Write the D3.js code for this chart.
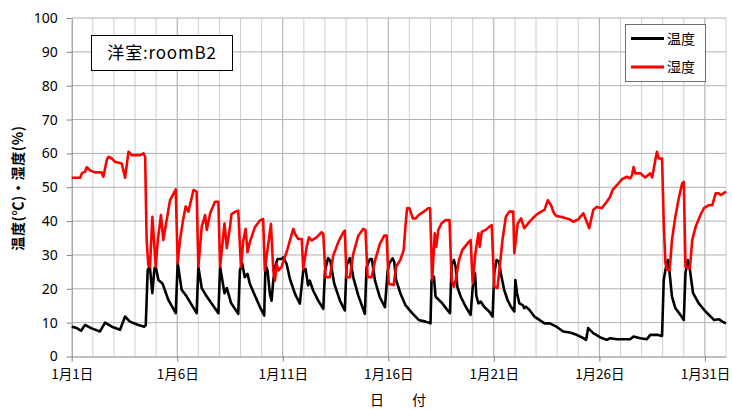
<!DOCTYPE html>
<html>
<head>
<meta charset="utf-8">
<script src="https://cdn.jsdelivr.net/npm/d3@7"></script>
<style>
  html, body { margin: 0; padding: 0; background: #fff; }
  svg { display: block; font-family: "Noto Sans CJK JP", "Noto Sans", sans-serif; }
</style>
</head>
<body>
<svg id="chart" width="732" height="410"></svg>
<script>
// ---- data (day offset from 1月1日 00:00, value) ----
const xTickDays = [0, 5, 10, 15, 20, 25, 30];
const xTickLabels = ["1月1日", "1月6日", "1月11日", "1月16日", "1月21日", "1月26日", "1月31日"];
const yTicks = [0, 10, 20, 30, 40, 50, 60, 70, 80, 90, 100];
const seriesNames = ["温度", "湿度"];
const seriesColors = ["#000000", "#ff0000"];

const temperature = [
  [0,8.8],[0.24,8.4],[0.44,7.6],[0.63,9.3],[0.95,8.3],[1.34,7.4],[1.58,10.0],[1.9,8.8],[2.29,7.9],
  [2.53,11.8],[2.76,10.3],[3.16,9.3],[3.44,8.8],[3.51,9.3],[3.6,25.6],[3.7,26.7],[3.82,18.7],
  [3.92,26.0],[3.98,26.5],[4.11,22.6],[4.3,21.6],[4.58,16.7],[4.93,12.8],[5.02,27.7],[5.21,19.7],
  [5.45,17.7],[5.92,12.8],[6.0,26.5],[6.16,20.2],[6.35,18.2],[6.95,12.8],[7.03,26.5],[7.24,18.7],
  [7.35,20.2],[7.55,15.8],[7.89,12.6],[7.97,25.4],[8.08,27.5],[8.2,23.4],[8.33,24.4],[8.44,21.5],
  [8.68,18.0],[8.92,14.6],[9.12,12.1],[9.18,27.0],[9.28,25.4],[9.39,18.5],[9.47,16.5],[9.55,22.4],
  [9.63,26.4],[9.75,28.8],[9.94,28.8],[10.02,29.3],[10.18,27.4],[10.34,22.9],[10.58,18.5],
  [10.81,15.6],[10.97,25.4],[11.08,25.9],[11.2,21.0],[11.28,22.4],[11.44,19.5],[11.68,16.5],
  [11.92,14.1],[12.0,25.4],[12.15,29.1],[12.25,28.3],[12.44,21.5],[12.71,16.5],[12.94,13.6],
  [13.02,26.9],[13.18,29.1],[13.34,23.4],[13.58,18.0],[13.89,12.6],[13.97,26.4],[14.13,28.8],
  [14.22,28.8],[14.37,22.4],[14.6,17.5],[14.84,14.6],[14.97,25.4],[15.05,27.5],[15.2,29.0],
  [15.28,28.0],[15.37,22.6],[15.57,18.7],[15.81,15.2],[16.13,12.8],[16.44,10.8],[16.76,10.3],
  [17.0,9.8],[17.05,22.6],[17.16,23.6],[17.24,17.7],[17.4,16.7],[17.56,15.7],[17.79,13.8],
  [17.92,12.8],[18.0,27.0],[18.11,28.5],[18.19,26.5],[18.27,20.6],[18.43,17.7],[18.67,14.7],
  [18.9,12.3],[19.0,20.6],[19.11,24.6],[19.17,18.0],[19.27,15.7],[19.38,16.2],[19.54,14.7],
  [19.78,13.3],[19.94,11.8],[20.02,24.6],[20.13,28.5],[20.25,28.0],[20.33,24.6],[20.49,19.7],
  [20.65,16.7],[20.81,14.7],[20.97,13.3],[21.02,22.6],[21.1,18.7],[21.21,15.7],[21.37,15.2],
  [21.44,14.3],[21.52,14.7],[21.68,13.8],[21.92,11.8],[22.16,10.8],[22.4,9.8],[22.65,9.8],
  [22.97,8.8],[23.29,7.4],[23.6,7.1],[23.92,6.4],[24.16,5.7],[24.37,4.9],[24.47,8.4],[24.71,6.9],
  [25.03,5.7],[25.35,4.9],[25.51,5.4],[25.83,5.1],[26.46,5.1],[26.62,5.9],[26.94,5.4],[27.25,5.1],
  [27.41,6.4],[27.73,6.4],[27.97,6.1],[28.05,22.6],[28.13,25.6],[28.24,28.5],[28.33,24.6],
  [28.44,17.7],[28.6,14.3],[28.84,12.3],[29.0,10.8],[29.08,24.6],[29.19,28.5],[29.29,25.6],
  [29.44,18.7],[29.71,15.7],[30.03,13.3],[30.43,10.8],[30.67,11.0],[30.83,10.3],[31.0,9.8]
];

const humidity = [
  [0,52.8],[0.4,52.8],[0.48,54.1],[0.63,54.6],[0.71,55.9],[0.87,55.0],[1.1,54.4],[1.42,54.4],
  [1.5,53.1],[1.66,58.0],[1.74,59.0],[1.9,58.5],[2.05,57.5],[2.37,57.0],[2.53,52.8],[2.69,60.5],
  [2.84,59.5],[3.24,59.5],[3.4,60.0],[3.48,59.0],[3.55,34.4],[3.63,27.0],[3.71,26.5],[3.82,41.3],
  [3.92,32.4],[3.98,26.5],[4.08,34.4],[4.23,41.8],[4.34,34.4],[4.58,43.3],[4.66,46.2],[4.93,49.4],
  [5.02,27.5],[5.13,34.4],[5.29,40.8],[5.4,44.3],[5.53,42.8],[5.77,49.2],[5.92,48.7],[6.0,26.5],
  [6.16,38.3],[6.32,41.8],[6.4,37.4],[6.56,42.3],[6.79,45.7],[6.95,45.7],[7.03,26.5],[7.24,39.3],
  [7.35,32.0],[7.5,38.3],[7.57,42.1],[7.7,42.6],[7.89,43.1],[8.02,26.4],[8.13,34.3],[8.24,37.7],
  [8.33,30.8],[8.44,33.8],[8.68,38.2],[8.92,40.2],[9.07,40.6],[9.15,25.4],[9.25,30.3],[9.44,39.2],
  [9.55,25.4],[9.63,22.4],[9.71,27.4],[9.79,25.4],[9.94,26.4],[10.02,28.0],[10.18,30.8],
  [10.34,34.3],[10.5,37.7],[10.58,36.2],[10.74,34.7],[10.9,34.7],[10.97,25.9],[11.13,32.3],
  [11.24,35.2],[11.37,34.3],[11.6,35.2],[11.84,36.7],[11.92,36.2],[12.03,23.4],[12.23,23.4],
  [12.39,29.8],[12.63,33.8],[12.87,36.7],[12.94,37.2],[13.02,23.4],[13.18,23.4],[13.34,30.3],
  [13.58,35.7],[13.81,37.7],[13.92,37.4],[14.02,23.4],[14.21,23.4],[14.37,28.3],[14.6,33.3],
  [14.81,35.7],[14.92,35.7],[15.02,21.5],[15.25,21.1],[15.37,26.5],[15.57,28.5],[15.73,31.5],
  [15.81,38.3],[15.89,43.8],[16.0,43.8],[16.16,40.8],[16.3,40.8],[16.44,41.8],[16.68,42.8],
  [16.89,43.8],[16.98,43.8],[17.08,22.6],[17.2,36.4],[17.27,32.4],[17.37,37.4],[17.52,39.3],
  [17.71,40.3],[17.9,40.3],[18.0,22.6],[18.11,20.6],[18.19,22.6],[18.35,28.5],[18.51,31.5],
  [18.75,33.4],[18.9,34.4],[19.0,21.6],[19.11,29.5],[19.17,32.4],[19.27,36.4],[19.33,32.4],
  [19.43,36.9],[19.62,37.4],[19.78,38.3],[19.9,38.8],[20.02,20.6],[20.17,20.2],[20.25,24.6],
  [20.41,34.4],[20.57,41.3],[20.73,42.8],[20.92,42.8],[20.97,30.5],[21.13,39.3],[21.29,40.8],
  [21.44,37.9],[21.56,38.8],[21.76,40.3],[22.0,41.8],[22.24,42.8],[22.4,43.3],[22.56,46.2],
  [22.71,44.7],[22.85,42.3],[22.97,41.5],[23.29,41.1],[23.6,40.5],[23.76,39.8],[24.0,40.5],
  [24.24,42.3],[24.4,39.8],[24.52,37.9],[24.71,43.3],[24.87,44.2],[25.11,43.8],[25.35,45.7],
  [25.51,47.2],[25.63,49.2],[25.83,50.6],[26.06,52.3],[26.3,53.1],[26.46,52.6],[26.55,53.6],
  [26.62,56.0],[26.7,54.1],[26.94,54.1],[27.17,52.9],[27.41,54.1],[27.5,52.9],[27.65,58.0],
  [27.73,60.5],[27.81,58.5],[27.97,58.5],[28.05,39.3],[28.13,27.5],[28.21,25.6],[28.33,25.6],
  [28.44,34.4],[28.6,41.3],[28.76,46.7],[28.92,51.1],[29.0,51.6],[29.08,26.5],[29.29,26.1],
  [29.4,34.4],[29.56,38.3],[29.79,41.8],[29.95,43.8],[30.19,44.7],[30.35,44.7],[30.51,48.2],
  [30.67,48.2],[30.75,47.7],[31.0,48.7]
];

// ---- layout ----
const svg = d3.select("#chart");
const pLeft = 71.7, pRight = 726, pTop = 18, pBottom = 356.5;
const x = d3.scaleLinear().domain([0, 31]).range([pLeft, pRight]);
const y = d3.scaleLinear().domain([0, 100]).range([pBottom, pTop]);

// gridlines
const grid = svg.append("g");
grid.selectAll("line.vday").data(d3.range(1, 32)).join("line")
  .attr("x1", d => x(d)).attr("x2", d => x(d))
  .attr("y1", pTop).attr("y2", pBottom)
  .attr("stroke", d => d % 5 === 0 ? "#a6a6a6" : "#cfcfcf").attr("stroke-width", 1);
grid.selectAll("line.h").data(yTicks.filter(v => v > 0)).join("line")
  .attr("x1", pLeft).attr("x2", pRight)
  .attr("y1", d => y(d)).attr("y2", d => y(d))
  .attr("stroke", "#b0b0b0").attr("stroke-width", 1);

// axes
const xAxis = d3.axisBottom(x).tickValues(xTickDays)
  .tickFormat((d, i) => xTickLabels[i]).tickSize(5).tickSizeOuter(0);
const gx = svg.append("g").attr("transform", `translate(0,${pBottom})`).call(xAxis);
gx.select(".domain").attr("stroke", "#808080");
gx.selectAll(".tick line").attr("stroke", "#808080");
gx.selectAll(".tick text").attr("font-size", 13.5).attr("fill", "#000").attr("dy", "1.1em")
  .attr("font-family", "'Noto Sans CJK JP', sans-serif");

const yAxis = d3.axisLeft(y).tickValues(yTicks).tickSize(5).tickSizeOuter(0);
const gy = svg.append("g").attr("transform", `translate(${pLeft},0)`).call(yAxis);
gy.select(".domain").attr("stroke", "#808080");
gy.selectAll(".tick line").attr("stroke", "#808080");
gy.selectAll(".tick text").attr("font-size", 14).attr("fill", "#000").attr("x", -14)
  .attr("font-family", "'Noto Sans', sans-serif");

// lines
const line = d3.line().x(d => x(d[0])).y(d => y(d[1])).curve(d3.curveLinear);
[temperature, humidity].forEach((s, i) => {
  svg.append("path").datum(s)
    .attr("fill", "none").attr("stroke", seriesColors[i])
    .attr("stroke-width", 2.6).attr("stroke-linejoin", "round")
    .attr("d", line);
});

// title box
const tb = svg.append("g");
tb.append("rect").attr("x", 91.5).attr("y", 35.5).attr("width", 141).attr("height", 35)
  .attr("fill", "#fff").attr("stroke", "#000").attr("stroke-width", 1);
tb.append("text").attr("x", 162).attr("y", 59).attr("text-anchor", "middle")
  .attr("font-size", 17).attr("letter-spacing", 0.8).attr("fill", "#000").text("洋室:roomB2");

// legend
const lg = svg.append("g");
lg.append("rect").attr("x", 625.5).attr("y", 24.5).attr("width", 80).attr("height", 57)
  .attr("fill", "#fff").attr("stroke", "#6e6e6e").attr("stroke-width", 1);
seriesNames.forEach((n, i) => {
  const yy = 38.5 + i * 28.5;
  lg.append("line").attr("x1", 631).attr("x2", 664).attr("y1", yy).attr("y2", yy)
    .attr("stroke", seriesColors[i]).attr("stroke-width", 3);
  lg.append("text").attr("x", 667).attr("y", yy + 5).attr("font-size", 14)
    .attr("fill", "#000").text(n);
});

// axis titles
svg.append("text").attr("transform", "translate(23,188) rotate(-90)")
  .attr("text-anchor", "middle").attr("font-size", 14).attr("font-weight", "bold")
  .attr("letter-spacing", 0.6).attr("fill", "#000").text("温度(℃)・湿度(%)");
svg.append("text").attr("x", 398).attr("y", 405).attr("text-anchor", "middle")
  .attr("font-size", 14).attr("fill", "#000").attr("xml:space", "preserve").text("日　　付");
</script>
</body>
</html>
